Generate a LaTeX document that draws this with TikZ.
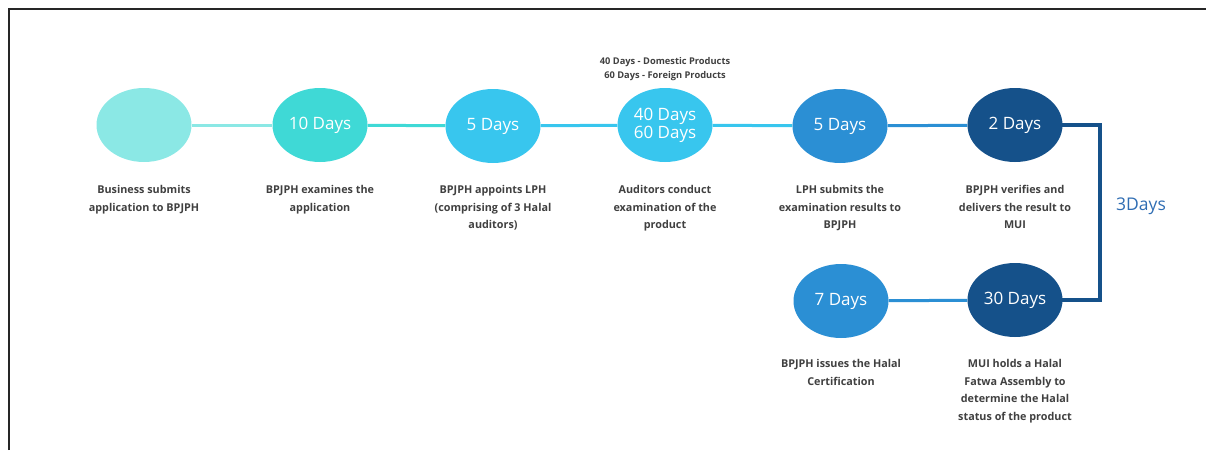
\documentclass[tikz,border=0pt]{standalone}
\usepackage{fontspec}
\setmainfont{Open Sans}
\usetikzlibrary{backgrounds}
\definecolor{cA}{HTML}{8BE8E5}
\definecolor{cB}{HTML}{3FD9D6}
\definecolor{cC}{HTML}{38C6EE}
\definecolor{cD}{HTML}{2B8FD4}
\definecolor{cE}{HTML}{15518A}
\definecolor{txt}{HTML}{404040}
\definecolor{dayblue}{HTML}{2F6DB3}
\tikzset{
  stage/.style={ellipse, minimum width=95pt, minimum height=74pt, inner sep=0pt, text=white, font=\fontsize{17}{18}\selectfont},
  desc/.style={anchor=north, align=center, text=txt, font=\bfseries\fontsize{10.8}{17.5}\selectfont, inner sep=0pt},
  link/.style={line width=3pt},
}
\usetikzlibrary{shapes.geometric}
\begin{document}
\begin{tikzpicture}[x=1pt,y=-1pt]
\useasboundingbox (0,0) rectangle (1206,450);
\draw[line width=2pt, black!85] (8.5,450) -- (8.5,9) -- (1206,9);

\node[stage, fill=cA] (n1) at (144,125) {};
\node[stage, fill=cB] (n2) at (320,125) {10 Days};
\node[stage, fill=cC] (n3) at (493,126) {5 Days};
\node[stage, fill=cC, align=center] (n4) at (665,125) {40 Days\\60 Days};
\node[stage, fill=cD] (n5) at (840,126) {5 Days};
\node[stage, fill=cE] (n6) at (1015,125) {2 Days};
\node[stage, fill=cD] (n7) at (841,301) {7 Days};
\node[stage, fill=cE] (n8) at (1015,300) {30 Days};

\coordinate (bt) at (1100,125);
\coordinate (bb) at (1100,300);

\begin{scope}[on background layer]
\draw[link, cA] (n1) -- (n2);
\draw[link, cB] (n2) -- (n3);
\draw[link, cC] (n3) -- (n4);
\draw[link, cC] (n4) -- (n5);
\draw[link, cD] (n5) -- (n6);
\draw[line width=4pt, cE, line join=miter] (n6.center) -- (bt) -- (bb) -- (n8.center);
\draw[link, cD] (n8) -- (n7);
\end{scope}

\node[anchor=center, text=dayblue, font=\fontsize{17.5}{18}\selectfont] (d3) at (1141,206) {3Days};

\node[desc, font=\bfseries\fontsize{9.3}{14}\selectfont] (note) at (665,57) {40 Days - Domestic Products\\60 Days - Foreign Products};

\node[desc] (t1) at (144,185.5) {Business submits\\application to BPJPH};
\node[desc] (t2) at (320,185.5) {BPJPH examines the\\application};
\node[desc] (t3) at (493,185.5) {BPJPH appoints LPH\\(comprising of 3 Halal\\auditors)};
\node[desc] (t4) at (665,185.5) {Auditors conduct\\examination of the\\product};
\node[desc] (t5) at (840,185.5) {LPH submits the\\examination results to\\BPJPH};
\node[desc] (t6) at (1015,185.5) {BPJPH verifies and\\delivers the result to\\MUI};
\node[desc] (t7) at (841,359.5) {BPJPH issues the Halal\\Certification};
\node[desc] (t8) at (1015,359.5) {MUI holds a Halal\\Fatwa Assembly to\\determine the Halal\\status of the product};
\end{tikzpicture}
\end{document}
